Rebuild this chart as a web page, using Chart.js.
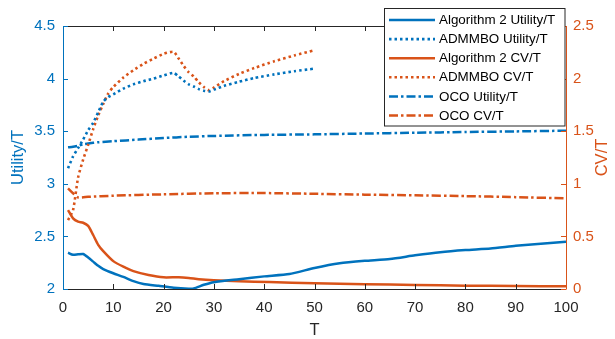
<!DOCTYPE html>
<html><head><meta charset="utf-8">
<script src="https://cdn.jsdelivr.net/npm/chart.js@4"></script>
<style>html,body{margin:0;padding:0;background:#fff}#wrap{width:615px;height:339px;position:relative}</style>
</head><body><div id="wrap"><canvas id="c" width="615" height="339"></canvas></div>
<script>
// ---- data ----
const seriesLabels = ['Algorithm 2 Utility/T','ADMMBO Utility/T','Algorithm 2 CV/T','ADMMBO CV/T','OCO Utility/T','OCO CV/T'];

const alg2UtilT = [1,2,3,4,5,6,7,8,10,12,14,16,19,22,25,26,28,30,35,40,45,50,55,60,65,70,75,80,85,90,95,100];
const alg2Util  = [2.345,2.325,2.33,2.333,2.30,2.26,2.22,2.19,2.15,2.115,2.075,2.048,2.03,2.012,2.003,2.005,2.04,2.065,2.093,2.12,2.142,2.2,2.245,2.268,2.285,2.32,2.35,2.37,2.385,2.41,2.43,2.45];

const admmUtilT = [1,2,3,4,5,6,7,8,9,10,12,14,16,18,20,22,23,24,25,26,27,28,29,30,32,35,38,42,46,50];
const admmUtil  = [3.147,3.26,3.34,3.42,3.51,3.58,3.68,3.78,3.825,3.85,3.905,3.945,3.975,4.0,4.03,4.055,4.02,3.98,3.945,3.925,3.90,3.885,3.878,3.895,3.93,3.97,4.005,4.04,4.07,4.095];

const alg2CvT = [1,2,3,4,5,6,7,8,10,12,14,17,20,23,25,27,30,35,41,50,60,70,80,90,100];
const alg2Cv  = [0.75,0.672,0.64,0.63,0.60,0.513,0.42,0.36,0.265,0.212,0.17,0.133,0.111,0.112,0.105,0.093,0.083,0.073,0.067,0.054,0.046,0.038,0.032,0.028,0.025];

const admmCvT = [1,2,3,4,5,6,7,8,9,10,12,14,16,18,20,22,23,24,25,26,27,28,29,30,32,35,38,42,46,50];
const admmCv  = [0.655,0.75,1.06,1.23,1.37,1.52,1.65,1.76,1.86,1.92,2.01,2.08,2.14,2.19,2.235,2.255,2.19,2.12,2.06,2.02,1.965,1.92,1.89,1.915,1.975,2.045,2.10,2.165,2.22,2.27];

const ocoUtilT = [1,2,3,4,5,7,10,15,20,25,30,40,50,60,70,80,90,100];
const ocoUtil  = [3.347,3.352,3.362,3.375,3.383,3.395,3.405,3.42,3.435,3.447,3.455,3.465,3.47,3.478,3.485,3.492,3.498,3.505];

const ocoCvT = [1,2,3,5,10,20,30,40,50,60,70,80,90,100];
const ocoCv  = [0.957,0.91,0.87,0.876,0.887,0.90,0.91,0.912,0.905,0.897,0.89,0.883,0.873,0.862];

const xTicks = [0,10,20,30,40,50,60,70,80,90,100];
const leftTicks = [2,2.5,3,3.5,4,4.5];
const rightTicks = [0,0.5,1,1.5,2,2.5];

// ---- styling ----
const BLUE = '#0072BD', ORANGE = '#D95319', DARK = '#262626';
const FONT = '"Liberation Sans", Arial, Helvetica, sans-serif';
const DOT = [2.5, 3], DASHDOT = [9, 3, 2.5, 3];

function pts(xs, ys){ return xs.map((x,i)=>({x:x, y:ys[i]})); }

const datasets = [
  {label:seriesLabels[0], data:pts(alg2UtilT, alg2Util), yAxisID:'y',  borderColor:BLUE,   borderWidth:2.5, borderDash:[]},
  {label:seriesLabels[1], data:pts(admmUtilT, admmUtil), yAxisID:'y',  borderColor:BLUE,   borderWidth:2.6, borderDash:DOT},
  {label:seriesLabels[2], data:pts(alg2CvT, alg2Cv),     yAxisID:'y1', borderColor:ORANGE, borderWidth:2.5, borderDash:[]},
  {label:seriesLabels[3], data:pts(admmCvT, admmCv),     yAxisID:'y1', borderColor:ORANGE, borderWidth:2.6, borderDash:DOT},
  {label:seriesLabels[4], data:pts(ocoUtilT, ocoUtil),   yAxisID:'y',  borderColor:BLUE,   borderWidth:2.5, borderDash:DASHDOT},
  {label:seriesLabels[5], data:pts(ocoCvT, ocoCv),       yAxisID:'y1', borderColor:ORANGE, borderWidth:2.5, borderDash:DASHDOT}
].map(d=>Object.assign(d,{pointRadius:0, fill:false, tension:0.2, backgroundColor:d.borderColor}));

const frame = {
  id:'frame',
  afterDatasetsDraw(chart){
    const {ctx, chartArea:a, scales} = chart;
    const L=a.left, R=a.right, T=a.top, B=a.bottom, TL=5;
    ctx.save();
    ctx.lineWidth = 1;
    ctx.strokeStyle = DARK;
    ctx.beginPath();
    xTicks.forEach(v=>{
      const x = Math.round(scales.x.getPixelForValue(v))+0.5;
      ctx.moveTo(x,B); ctx.lineTo(x,B-TL);
      ctx.moveTo(x,T); ctx.lineTo(x,T+TL);
    });
    ctx.moveTo(L,B+0.5); ctx.lineTo(R,B+0.5);
    ctx.moveTo(L,T+0.5); ctx.lineTo(R,T+0.5);
    ctx.stroke();
    ctx.strokeStyle = BLUE;
    ctx.beginPath();
    ctx.moveTo(L+0.5,T); ctx.lineTo(L+0.5,B+0.5);
    leftTicks.forEach(v=>{
      const y = Math.round(scales.y.getPixelForValue(v))+0.5;
      ctx.moveTo(L,y); ctx.lineTo(L+TL,y);
    });
    ctx.stroke();
    ctx.strokeStyle = ORANGE;
    ctx.beginPath();
    ctx.moveTo(R+0.5,T); ctx.lineTo(R+0.5,B+0.5);
    rightTicks.forEach(v=>{
      const y = Math.round(scales.y1.getPixelForValue(v))+0.5;
      ctx.moveTo(R,y); ctx.lineTo(R-TL,y);
    });
    ctx.stroke();

    const cy = (T+B)/2;
    ctx.font = '16.5px ' + FONT;
    ctx.textAlign = 'center'; ctx.textBaseline = 'middle';
    ctx.fillStyle = DARK;
    ctx.fillText('T', (L+R)/2, 330);
    ctx.save(); ctx.translate(18, cy); ctx.rotate(-Math.PI/2);
    ctx.fillStyle = BLUE; ctx.fillText('Utility/T', 0, 0); ctx.restore();
    ctx.save(); ctx.translate(602, cy); ctx.rotate(-Math.PI/2);
    ctx.fillStyle = ORANGE; ctx.fillText('CV/T', 0, 0); ctx.restore();

    const bx=384.5, by=8.5, bw=180.5, bh=117.5;
    ctx.fillStyle = '#fff';
    ctx.fillRect(bx,by,bw,bh);
    ctx.strokeStyle = DARK; ctx.lineWidth = 1;
    ctx.strokeRect(bx,by,bw,bh);
    ctx.font = '13.4px ' + FONT;
    ctx.textAlign = 'left'; ctx.textBaseline = 'middle';
    chart.data.datasets.forEach((d,i)=>{
      const y = 20 + i*19.1;
      ctx.save();
      ctx.strokeStyle = d.borderColor; ctx.lineWidth = d.borderWidth;
      ctx.setLineDash(d.borderDash||[]);
      ctx.beginPath(); ctx.moveTo(389,y); ctx.lineTo(435,y); ctx.stroke();
      ctx.restore();
      ctx.fillStyle = '#000';
      ctx.fillText(d.label, 439, y+0.5);
    });
    ctx.restore();
  }
};

const plainLabel = v => String(v);

new Chart(document.getElementById('c'), {
  type:'line',
  data:{datasets},
  options:{
    responsive:false, animation:false, devicePixelRatio:1,
    layout:{padding:{top:26, left:0, right:0, bottom:0}},
    plugins:{legend:{display:false}, tooltip:{enabled:false}, title:{display:false}},
    scales:{
      x:{type:'linear', min:0, max:100,
         afterBuildTicks(s){ s.ticks = xTicks.map(v=>({value:v})); },
         afterFit(s){ s.height = 50; },
         grid:{display:false, drawTicks:false}, border:{display:false},
         ticks:{color:DARK, padding:10, maxRotation:0, autoSkip:false, callback:plainLabel, font:{family:FONT, size:15}}},
      y:{type:'linear', position:'left', min:2, max:4.5,
         afterBuildTicks(s){ s.ticks = leftTicks.map(v=>({value:v})); },
         afterFit(s){ s.width = 63; },
         grid:{display:false, drawTicks:false}, border:{display:false},
         ticks:{color:BLUE, padding:8, callback:plainLabel, font:{family:FONT, size:15}}},
      y1:{type:'linear', position:'right', min:0, max:2.5,
         afterBuildTicks(s){ s.ticks = rightTicks.map(v=>({value:v})); },
         afterFit(s){ s.width = 49; },
         grid:{display:false, drawTicks:false}, border:{display:false},
         ticks:{color:ORANGE, padding:7, callback:plainLabel, font:{family:FONT, size:15}}}
    }
  },
  plugins:[frame]
});
</script></body></html>
